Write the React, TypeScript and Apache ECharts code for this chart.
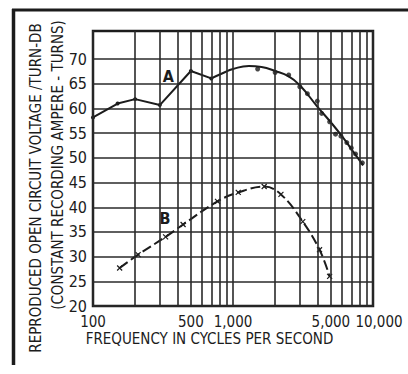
import React, { useEffect, useRef } from 'react';
import * as echarts from 'echarts';

// Axis ticks / labels
const yTicks = [20, 25, 30, 35, 40, 45, 50, 55, 60, 65, 70];
const xGridFreqs = [100, 200, 300, 400, 500, 600, 700, 800, 900, 1000, 2000, 3000, 4000, 5000, 6000, 7000, 8000, 9000, 10000];
const xLabelFreqs = [100, 500, 1000, 5000, 10000];
const xLabelTexts = ['100', '500', '1,000', '5,000', '10,000'];

// Curve A – low-frequency broken line
const aLowFreq = [100, 150, 200, 300, 500, 700];
const aLowVal = [58.2, 61.0, 61.9, 60.7, 67.6, 66.1];
// Curve A – smooth part
const aCurveFreq = [700, 850, 1000, 1300, 1600, 2000, 2500, 3000, 4000, 5000, 6000, 7000, 8500];
const aCurveVal = [66.1, 67.2, 68.0, 68.6, 68.4, 67.6, 66.5, 64.7, 60.4, 57.2, 54.4, 51.8, 48.5];
// Curve A – measured dots
const aDotFreq = [1500, 2000, 2500, 3000, 3400, 4000, 4300, 4900, 5400, 5900, 6500, 7000, 7500, 8400];
const aDotVal = [68.0, 67.3, 66.8, 64.4, 63.0, 61.5, 59.0, 57.3, 54.8, 54.4, 53.1, 52.0, 50.8, 49.0];
// Curve B
const bFreq = [155, 210, 330, 440, 775, 1090, 1670, 2200, 3150, 4150, 4900];
const bVal = [27.7, 30.4, 34.0, 36.5, 41.2, 43.0, 44.2, 42.6, 37.1, 31.4, 26.0];

// Curve labels
const labelA = { freq: 345, val: 66.5, text: 'A' };
const labelB = { freq: 327, val: 37.7, text: 'B' };

const yTitle1 = 'REPRODUCED OPEN CIRCUIT VOLTAGE /TURN-DB';
const yTitle2 = '(CONSTANT RECORDING AMPERE - TURNS)';
const xTitle = 'FREQUENCY IN CYCLES PER SECOND';

const INK = '#1c1c1c';
const GRID = '#2a2a2a';
const FONT = '"DejaVu Sans Condensed", "DejaVu Sans", sans-serif';

export default function App() {
  const ref = useRef<HTMLDivElement>(null);
  useEffect(() => {
    if (!ref.current) return;
    const chart = echarts.init(ref.current, undefined, { renderer: 'svg' });
    const splitColors = yTicks.map(() => GRID).concat(['rgba(0,0,0,0)', 'rgba(0,0,0,0)', 'rgba(0,0,0,0)']);
    chart.setOption({
      animation: false,
      backgroundColor: '#ffffff',
      grid: {
        left: 93, right: 35, top: 31, bottom: 68,
        show: true, borderColor: INK, borderWidth: 2.5, backgroundColor: 'transparent',
      },
      xAxis: {
        type: 'log', logBase: 10, min: 100, max: 10000,
        axisLine: { show: false }, axisTick: { show: false },
        axisLabel: { show: false }, splitLine: { show: false },
      },
      yAxis: {
        type: 'value', min: 20, max: 75.7, interval: 5,
        axisLine: { show: false }, axisTick: { show: false },
        axisLabel: {
          fontSize: 16, color: INK, fontFamily: FONT, margin: 6,
          formatter: (v: number) => (yTicks.indexOf(v) >= 0 ? String(v) : ''),
        },
        splitLine: { show: true, lineStyle: { color: splitColors, width: 1.6 } },
      },
      graphic: [
        { type: 'line', shape: { x1: 12, y1: 10, x2: 408, y2: 10 }, style: { stroke: INK, lineWidth: 3 } },
        { type: 'line', shape: { x1: 13.5, y1: 9, x2: 13.5, y2: 365 }, style: { stroke: INK, lineWidth: 3.5 } },
        {
          type: 'text', x: 36, y: 188, rotation: Math.PI / 2,
          style: { text: yTitle1, fontSize: 15, fontFamily: FONT, fill: INK, textAlign: 'center', textVerticalAlign: 'middle' },
        },
        {
          type: 'text', x: 58, y: 165, rotation: Math.PI / 2,
          style: { text: yTitle2, fontSize: 15, fontFamily: FONT, fill: INK, textAlign: 'center', textVerticalAlign: 'middle' },
        },
        {
          type: 'text', x: 209.5, y: 339,
          style: { text: xTitle, fontSize: 15, fontFamily: FONT, fill: INK, textAlign: 'center', textVerticalAlign: 'middle' },
        },
      ],
      series: [
        {
          type: 'line', z: 1, data: [[100, 20]], showSymbol: false, lineStyle: { opacity: 0 }, silent: true,
          markLine: {
            silent: true, symbol: ['none', 'none'], animation: false,
            lineStyle: { color: GRID, width: 1.6, type: 'solid' },
            label: { position: 'start', distance: 8, fontSize: 15, color: INK, fontFamily: FONT },
            data: xGridFreqs.map((f) => {
              const i = xLabelFreqs.indexOf(f);
              const pad = f === 10000 ? [0, 0, 0, 12] : [0, 0, 0, 0];
              return {
                xAxis: f,
                label: i >= 0 ? { show: true, formatter: xLabelTexts[i], padding: pad } : { show: false },
              };
            }),
          },
        },
        {
          type: 'line', z: 3, data: aLowFreq.map((f, i) => [f, aLowVal[i]]),
          symbol: 'circle', symbolSize: 4, itemStyle: { color: INK },
          lineStyle: { color: INK, width: 2 },
        },
        {
          type: 'line', z: 3, smooth: 0.5, showSymbol: false,
          data: aCurveFreq.map((f, i) => [f, aCurveVal[i]]),
          lineStyle: { color: INK, width: 2 },
          markPoint: {
            symbol: 'circle', symbolSize: 1, itemStyle: { color: 'rgba(0,0,0,0)' },
            label: { show: true, position: 'inside', fontSize: 16, fontWeight: 'bold', color: INK, fontFamily: FONT },
            data: [
              { coord: [labelA.freq, labelA.val], label: { formatter: labelA.text } },
              { coord: [labelB.freq, labelB.val], label: { formatter: labelB.text } },
            ],
          },
        },
        {
          type: 'scatter', z: 4, symbol: 'circle', symbolSize: 5,
          data: aDotFreq.map((f, i) => [f, aDotVal[i]]),
          itemStyle: { color: INK },
        },
        {
          type: 'line', z: 3, smooth: 0.4,
          data: bFreq.map((f, i) => [f, bVal[i]]),
          symbol: 'path://M0 0L10 10M10 0L0 10', symbolSize: 5,
          itemStyle: { color: INK, borderColor: INK, borderWidth: 1.2 },
          lineStyle: { color: INK, width: 2, type: [10, 4] },
        },
      ],
    });
    return () => chart.dispose();
  }, []);
  return <div ref={ref} style={{ position: 'fixed', left: 0, top: 0, width: 408, height: 374, background: '#fff' }} />;
}
